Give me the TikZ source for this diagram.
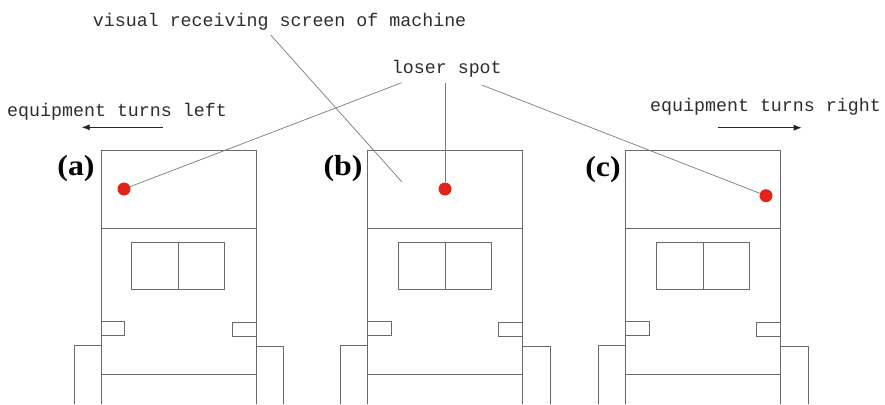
\documentclass[tikz,border=0pt]{standalone}
\usepackage{fontspec}
\setmainfont{Liberation Serif}
\setmonofont{Liberation Mono}
\usetikzlibrary{arrows.meta,calc}

\definecolor{outline}{HTML}{6A6A6A}
\definecolor{leader}{HTML}{7A7A7A}
\definecolor{spot}{HTML}{E2231A}
\definecolor{txt}{HTML}{2E2E2E}

\tikzset{
  part/.style={draw=outline, line width=0.9pt},
  laser/.style={circle, fill=spot, inner sep=0pt, minimum size=13pt},
  leaderline/.style={draw=leader, line width=0.7pt},
  caption/.style={font=\fontsize{18.3}{20}\selectfont\ttfamily, text=txt, inner sep=0pt},
  tag/.style={font=\fontsize{29}{31}\selectfont\bfseries, text=black, inner sep=0pt, xscale=1.1},
  turn/.style={draw=black!85, line width=0.8pt, -{Latex[length=8pt,width=6pt]}},
  machine/.pic={
    % display screen on top
    \draw[part] (0,150) rectangle (155,228);
    % cabin body, running past the lower edge
    \draw[part] (0,228) -- (0,404);
    \draw[part] (155,228) -- (155,404);
    \draw[part] (0,374) -- (155,374);
    % front window with its middle bar
    \draw[part] (30.7,242.7) rectangle (123.3,289.3);
    \draw[part] (77.3,242.7) -- (77.3,289.3);
    % side lamps
    \draw[part] (0,321.7) rectangle (23.5,335.7);
    \draw[part] (131,322) rectangle (155,336);
    % wheels
    \draw[part] (0,345.5) -- (-27,345.5) -- (-27,404);
    \draw[part] (155,346.5) -- (182.5,346.5) -- (182.5,404);
  }
}

\begin{document}
\begin{tikzpicture}[x=1pt,y=-1pt]
  \useasboundingbox (0,0) rectangle (885,404);
  \fill[white] (0,0) rectangle (885,404);

  % the three machines
  \pic at (101,0) {machine};
  \pic at (367.7,0) {machine};
  \pic at (625.7,0) {machine};

  % panel tags
  \node[tag, anchor=base] (ta) at (76,175) {(a)};
  \node[tag, anchor=base] (tb) at (343,175) {(b)};
  \node[tag, anchor=base] (tc) at (603,176) {(c)};

  % laser spots on the screens
  \node[laser] (da) at (124,189) {};
  \node[laser] (db) at (445,189) {};
  \node[laser] (dc) at (766,195.7) {};

  % captions
  \node[caption, anchor=base west] (screen) at (92.7,26.7) {visual receiving screen of machine};
  \node[caption, anchor=base west] (spotlbl) at (391.7,73.3) {loser spot};
  \node[caption, anchor=base west] (left) at (7,116.7) {equipment turns left};
  \node[caption, anchor=base west] (right) at (650,111.7) {equipment turns right};

  % leader lines
  \coordinate (scrfoot) at ($(screen.base west)+(178,8.3)$);
  \coordinate (scrpt) at (401.7,181.7);
  \draw[leaderline] (scrfoot) -- (scrpt);

  \coordinate (lsa) at ($(spotlbl.base west)+(10,9.4)$);
  \coordinate (lsb) at ($(spotlbl.base west)+(53.3,9.4)$);
  \coordinate (lsc) at ($(spotlbl.base west)+(90,11.7)$);
  \draw[leaderline] (lsa) -- (da);
  \draw[leaderline] (lsb) -- (db);
  \draw[leaderline] (lsc) -- (dc);

  % turning direction arrows
  \coordinate (la0) at ($(left.base west)+(156.3,10.6)$);
  \coordinate (la1) at ($(left.base west)+(74.7,10.6)$);
  \draw[turn] (la0) -- (la1);
  \coordinate (ra0) at ($(right.base west)+(68.3,16)$);
  \coordinate (ra1) at ($(right.base west)+(151.7,16)$);
  \draw[turn] (ra0) -- (ra1);
\end{tikzpicture}
\end{document}
